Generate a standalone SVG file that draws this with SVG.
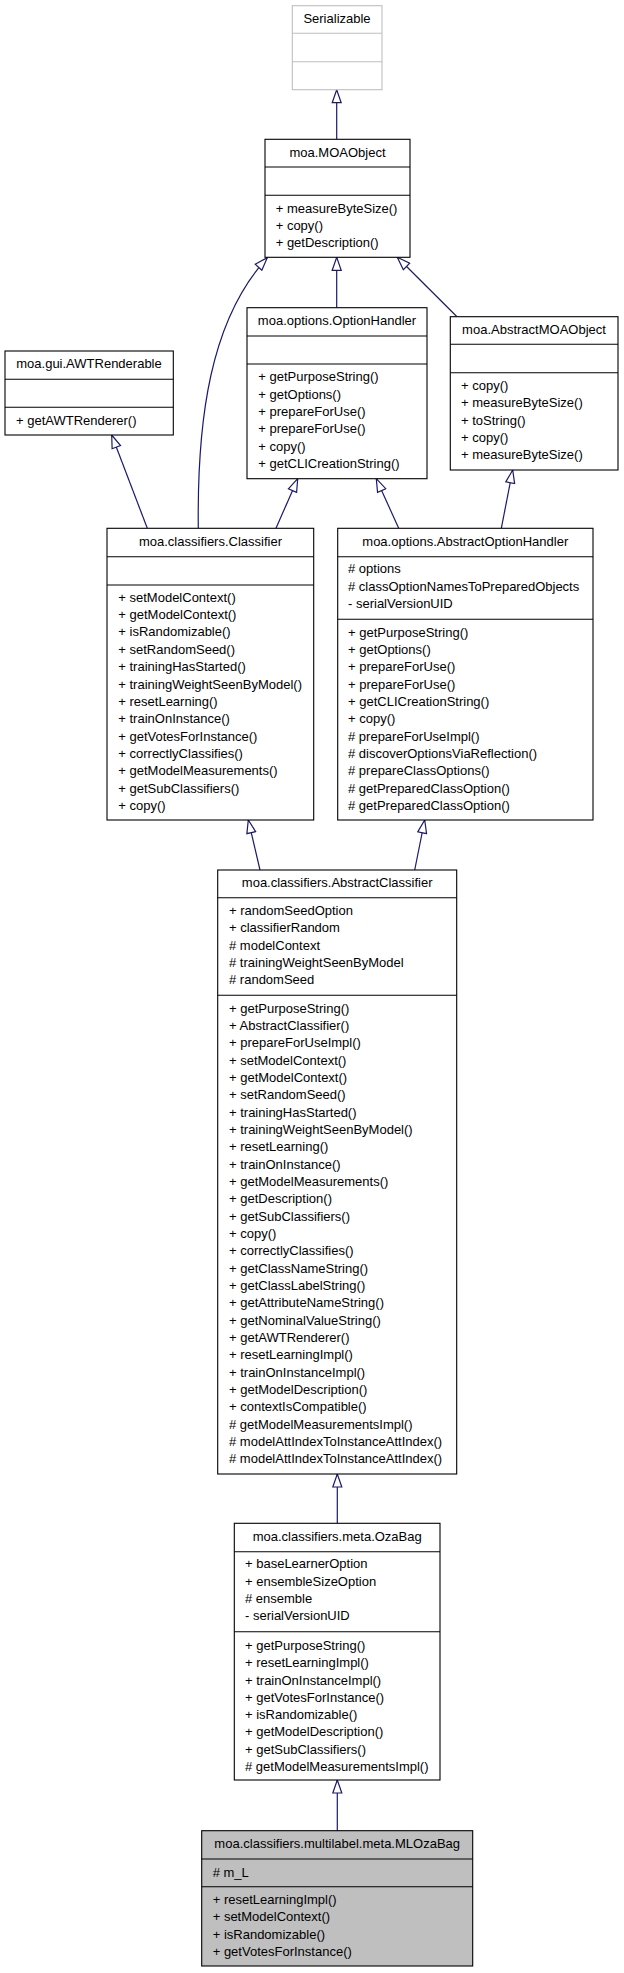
<svg xmlns="http://www.w3.org/2000/svg" width="624" height="1973" viewBox="0 0 624 1973">
<defs>
<style>
.box{fill:#ffffff;stroke:#000000;stroke-width:1.1}
.gbox{fill:#ffffff;stroke:#bfbfbf;stroke-width:1.1}
.hbox{fill:#bfbfbf;stroke:#000000;stroke-width:1.1}
.div{stroke:#000000;stroke-width:1.1}
.gdiv{stroke:#bfbfbf;stroke-width:1.1}
text{font-family:"Liberation Sans",Arial,Helvetica,sans-serif;font-size:13px;fill:#000000}
.t{text-anchor:middle}
.edge{fill:none;stroke:#191970;stroke-width:1.2}
</style>
<marker id="tri" viewBox="0 0 15 11" refX="14" refY="5.5" markerWidth="15" markerHeight="11" markerUnits="userSpaceOnUse" orient="auto">
<path d="M1,1 L14,5.5 L1,10 Z" fill="#ffffff" stroke="#191970" stroke-width="1.2"/>
</marker>
</defs>
<rect width="624" height="1973" fill="#ffffff"/>

<g id="edges">
<path class="edge" d="M336.7,139.3 L336.7,89.7" marker-end="url(#tri)"/>
<path class="edge" d="M198.3,528.3 C197,420 210,320 267.3,257.7" marker-end="url(#tri)"/>
<path class="edge" d="M336.7,307.7 L336.7,257.3" marker-end="url(#tri)"/>
<path class="edge" d="M457,316.7 L397.3,257.3" marker-end="url(#tri)"/>
<path class="edge" d="M147.3,528.3 L111.7,435" marker-end="url(#tri)"/>
<path class="edge" d="M276,528.3 L297.7,478.7" marker-end="url(#tri)"/>
<path class="edge" d="M398.7,528.3 L376.3,478.7" marker-end="url(#tri)"/>
<path class="edge" d="M501.3,528.3 L512.7,470" marker-end="url(#tri)"/>
<path class="edge" d="M260,870 L248.3,820" marker-end="url(#tri)"/>
<path class="edge" d="M414.7,870 L424.7,820" marker-end="url(#tri)"/>
<path class="edge" d="M337.3,1523.3 L337.3,1474" marker-end="url(#tri)"/>
<path class="edge" d="M337.3,1830.7 L337.3,1780" marker-end="url(#tri)"/>
</g>

<g id="Serializable">
<rect class="gbox" x="292.3" y="5.7" width="89.7" height="84"/>
<line class="gdiv" x1="292.3" y1="33.3" x2="382" y2="33.3"/>
<line class="gdiv" x1="292.3" y1="61.7" x2="382" y2="61.7"/>
<text class="t" x="337" y="22.7">Serializable</text>
</g>

<g id="MOAObject">
<rect class="box" x="265" y="139.3" width="145" height="118"/>
<line class="div" x1="265" y1="167" x2="410" y2="167"/>
<line class="div" x1="265" y1="195.3" x2="410" y2="195.3"/>
<text class="t" x="337.5" y="156.7">moa.MOAObject</text>
<text x="275.7" y="213.3">+ measureByteSize()</text>
<text x="275.7" y="230.3">+ copy()</text>
<text x="275.7" y="247">+ getDescription()</text>
</g>

<g id="AWTRenderable">
<rect class="box" x="5" y="351" width="168.3" height="84"/>
<line class="div" x1="5" y1="379.3" x2="173.3" y2="379.3"/>
<line class="div" x1="5" y1="407.3" x2="173.3" y2="407.3"/>
<text class="t" x="89" y="368.3">moa.gui.AWTRenderable</text>
<text x="16" y="425">+ getAWTRenderer()</text>
</g>

<g id="OptionHandler">
<rect class="box" x="247" y="307.7" width="180" height="171"/>
<line class="div" x1="247" y1="336" x2="427" y2="336"/>
<line class="div" x1="247" y1="364" x2="427" y2="364"/>
<text class="t" x="337" y="325">moa.options.OptionHandler</text>
<text x="258.3" y="381">+ getPurposeString()</text>
<text x="258.3" y="398.5">+ getOptions()</text>
<text x="258.3" y="416">+ prepareForUse()</text>
<text x="258.3" y="433.2">+ prepareForUse()</text>
<text x="258.3" y="450.7">+ copy()</text>
<text x="258.3" y="468.2">+ getCLICreationString()</text>
</g>

<g id="AbstractMOAObject">
<rect class="box" x="450.3" y="316.7" width="167.7" height="153.3"/>
<line class="div" x1="450.3" y1="344.3" x2="618" y2="344.3"/>
<line class="div" x1="450.3" y1="372.7" x2="618" y2="372.7"/>
<text class="t" x="534" y="334">moa.AbstractMOAObject</text>
<text x="461" y="390">+ copy()</text>
<text x="461" y="407.3">+ measureByteSize()</text>
<text x="461" y="424.5">+ toString()</text>
<text x="461" y="441.7">+ copy()</text>
<text x="461" y="459">+ measureByteSize()</text>
</g>

<g id="Classifier">
<rect class="box" x="107" y="528.3" width="206.7" height="291.7"/>
<line class="div" x1="107" y1="556.7" x2="313.7" y2="556.7"/>
<line class="div" x1="107" y1="585" x2="313.7" y2="585"/>
<text class="t" x="210.5" y="545.7">moa.classifiers.Classifier</text>
<text x="118.3" y="601.7">+ setModelContext()</text>
<text x="118.3" y="619.1">+ getModelContext()</text>
<text x="118.3" y="636.4">+ isRandomizable()</text>
<text x="118.3" y="653.8">+ setRandomSeed()</text>
<text x="118.3" y="671.1">+ trainingHasStarted()</text>
<text x="118.3" y="688.5">+ trainingWeightSeenByModel()</text>
<text x="118.3" y="705.9">+ resetLearning()</text>
<text x="118.3" y="723.2">+ trainOnInstance()</text>
<text x="118.3" y="740.6">+ getVotesForInstance()</text>
<text x="118.3" y="757.9">+ correctlyClassifies()</text>
<text x="118.3" y="775.3">+ getModelMeasurements()</text>
<text x="118.3" y="792.6">+ getSubClassifiers()</text>
<text x="118.3" y="810">+ copy()</text>
</g>

<g id="AbstractOptionHandler">
<rect class="box" x="337.7" y="528.3" width="255.3" height="291.7"/>
<line class="div" x1="337.7" y1="556.7" x2="593" y2="556.7"/>
<line class="div" x1="337.7" y1="619.3" x2="593" y2="619.3"/>
<text class="t" x="465.3" y="545.7">moa.options.AbstractOptionHandler</text>
<text x="348" y="573.3"># options</text>
<text x="348" y="590.7"># classOptionNamesToPreparedObjects</text>
<text x="348" y="608.2">- serialVersionUID</text>
<text x="348" y="636.7">+ getPurposeString()</text>
<text x="348" y="654">+ getOptions()</text>
<text x="348" y="671.4">+ prepareForUse()</text>
<text x="348" y="688.7">+ prepareForUse()</text>
<text x="348" y="706">+ getCLICreationString()</text>
<text x="348" y="723.4">+ copy()</text>
<text x="348" y="740.7"># prepareForUseImpl()</text>
<text x="348" y="758"># discoverOptionsViaReflection()</text>
<text x="348" y="775.4"># prepareClassOptions()</text>
<text x="348" y="792.7"># getPreparedClassOption()</text>
<text x="348" y="810"># getPreparedClassOption()</text>
</g>

<g id="AbstractClassifier">
<rect class="box" x="217.7" y="870" width="239" height="604"/>
<line class="div" x1="217.7" y1="897.7" x2="456.7" y2="897.7"/>
<line class="div" x1="217.7" y1="995.3" x2="456.7" y2="995.3"/>
<text class="t" x="337.2" y="886.7">moa.classifiers.AbstractClassifier</text>
<text x="229" y="915">+ randomSeedOption</text>
<text x="229" y="932.3">+ classifierRandom</text>
<text x="229" y="949.7"># modelContext</text>
<text x="229" y="967"># trainingWeightSeenByModel</text>
<text x="229" y="984.3"># randomSeed</text>
<text x="229" y="1012.7">+ getPurposeString()</text>
<text x="229" y="1030">+ AbstractClassifier()</text>
<text x="229" y="1047.4">+ prepareForUseImpl()</text>
<text x="229" y="1064.7">+ setModelContext()</text>
<text x="229" y="1082">+ getModelContext()</text>
<text x="229" y="1099.4">+ setRandomSeed()</text>
<text x="229" y="1116.7">+ trainingHasStarted()</text>
<text x="229" y="1134">+ trainingWeightSeenByModel()</text>
<text x="229" y="1151.4">+ resetLearning()</text>
<text x="229" y="1168.7">+ trainOnInstance()</text>
<text x="229" y="1186">+ getModelMeasurements()</text>
<text x="229" y="1203.3">+ getDescription()</text>
<text x="229" y="1220.7">+ getSubClassifiers()</text>
<text x="229" y="1238">+ copy()</text>
<text x="229" y="1255.3">+ correctlyClassifies()</text>
<text x="229" y="1272.7">+ getClassNameString()</text>
<text x="229" y="1290">+ getClassLabelString()</text>
<text x="229" y="1307.3">+ getAttributeNameString()</text>
<text x="229" y="1324.7">+ getNominalValueString()</text>
<text x="229" y="1342">+ getAWTRenderer()</text>
<text x="229" y="1359.3">+ resetLearningImpl()</text>
<text x="229" y="1376.7">+ trainOnInstanceImpl()</text>
<text x="229" y="1394">+ getModelDescription()</text>
<text x="229" y="1411.3">+ contextIsCompatible()</text>
<text x="229" y="1428.7"># getModelMeasurementsImpl()</text>
<text x="229" y="1446"># modelAttIndexToInstanceAttIndex()</text>
<text x="229" y="1463.3"># modelAttIndexToInstanceAttIndex()</text>
</g>

<g id="OzaBag">
<rect class="box" x="234.3" y="1523.3" width="205.7" height="256.7"/>
<line class="div" x1="234.3" y1="1551.7" x2="440" y2="1551.7"/>
<line class="div" x1="234.3" y1="1631.7" x2="440" y2="1631.7"/>
<text class="t" x="337.2" y="1540.7">moa.classifiers.meta.OzaBag</text>
<text x="245" y="1568.3">+ baseLearnerOption</text>
<text x="245" y="1585.7">+ ensembleSizeOption</text>
<text x="245" y="1603"># ensemble</text>
<text x="245" y="1620.3">- serialVersionUID</text>
<text x="245" y="1650">+ getPurposeString()</text>
<text x="245" y="1667.2">+ resetLearningImpl()</text>
<text x="245" y="1684.5">+ trainOnInstanceImpl()</text>
<text x="245" y="1701.7">+ getVotesForInstance()</text>
<text x="245" y="1719">+ isRandomizable()</text>
<text x="245" y="1736.2">+ getModelDescription()</text>
<text x="245" y="1753.5">+ getSubClassifiers()</text>
<text x="245" y="1770.7"># getModelMeasurementsImpl()</text>
</g>

<g id="MLOzaBag">
<rect class="hbox" x="201.7" y="1830.7" width="271" height="135.3"/>
<line class="div" x1="201.7" y1="1859" x2="472.7" y2="1859"/>
<line class="div" x1="201.7" y1="1886.7" x2="472.7" y2="1886.7"/>
<text class="t" x="337.2" y="1848.3">moa.classifiers.multilabel.meta.MLOzaBag</text>
<text x="212.7" y="1876.7"># m_L</text>
<text x="212.7" y="1904">+ resetLearningImpl()</text>
<text x="212.7" y="1921.3">+ setModelContext()</text>
<text x="212.7" y="1938.7">+ isRandomizable()</text>
<text x="212.7" y="1956">+ getVotesForInstance()</text>
</g>
</svg>
